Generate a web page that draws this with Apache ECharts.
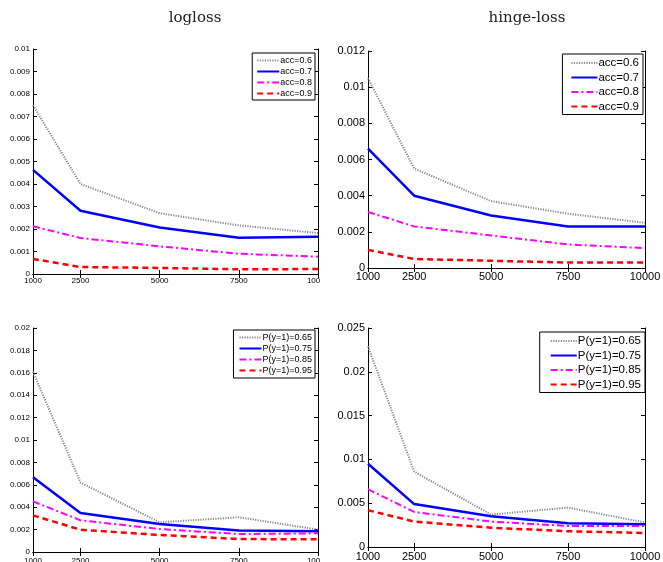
<!DOCTYPE html>
<html>
<head>
<meta charset="utf-8">
<script src="https://cdn.jsdelivr.net/npm/echarts@6/dist/echarts.min.js"></script>
<style>
  body { margin: 0; background: #fff; }
  #wrap { position: relative; width: 663px; height: 562px; overflow: hidden; background: #fff; }
  .panel { position: absolute; }
</style>
</head>
<body>
<div id="wrap">
  <div id="tl" class="panel" style="left:0;top:0;width:320px;height:290px"></div>
  <div id="tr" class="panel" style="left:330px;top:0;width:333px;height:290px"></div>
  <div id="bl" class="panel" style="left:0;top:290px;width:320px;height:272px"></div>
  <div id="br" class="panel" style="left:330px;top:290px;width:333px;height:272px"></div>
</div>
<script>
// sample sizes on the x axis
var sizes = [1000, 2500, 5000, 7500, 10000];

var accNames = ['acc=0.6', 'acc=0.7', 'acc=0.8', 'acc=0.9'];
var pNames = ['P(y=1)=0.65', 'P(y=1)=0.75', 'P(y=1)=0.85', 'P(y=1)=0.95'];

// logloss, accuracy
var logAcc06 = [0.0075, 0.0040, 0.0027, 0.00216, 0.00182];
var logAcc07 = [0.00463, 0.00281, 0.00207, 0.00161, 0.00166];
var logAcc08 = [0.00212, 0.0016, 0.00123, 0.0009, 0.00077];
var logAcc09 = [0.00067, 0.00031, 0.00027, 0.00021, 0.00022];

// hinge-loss, accuracy
var hingeAcc06 = [0.0105, 0.0055, 0.0037, 0.003, 0.0025];
var hingeAcc07 = [0.0066, 0.004, 0.0029, 0.0023, 0.0023];
var hingeAcc08 = [0.0031, 0.0023, 0.0018, 0.0013, 0.0011];
var hingeAcc09 = [0.001, 0.0005, 0.0004, 0.0003, 0.0003];

// logloss, class prior
var logP065 = [0.0161, 0.0062, 0.00265, 0.0031, 0.002];
var logP075 = [0.00667, 0.00348, 0.0025, 0.00193, 0.00185];
var logP085 = [0.00452, 0.00283, 0.00205, 0.0016, 0.00167];
var logP095 = [0.00327, 0.00199, 0.00152, 0.00116, 0.00113];

// hinge-loss, class prior
var hingeP065 = [0.0229, 0.0086, 0.0037, 0.0045, 0.0028];
var hingeP075 = [0.0095, 0.0049, 0.0035, 0.0027, 0.0026];
var hingeP085 = [0.0066, 0.004, 0.0029, 0.0024, 0.0024];
var hingeP095 = [0.0042, 0.0029, 0.0022, 0.0018, 0.0016];

var styles = [
  { color: '#8a8a8a', width: 2, type: [1.2, 1.3] },
  { color: '#0000ff', width: 2.5, type: 'solid' },
  { color: '#ff00ff', width: 2, type: [7, 3, 2, 3] },
  { color: '#ff0000', width: 2.5, type: [6, 4] }
];

function pairs(ys) {
  return sizes.map(function (x, i) { return [x, ys[i]]; });
}

function makeChart(id, cfg) {
  var chart = echarts.init(document.getElementById(id), null, { renderer: 'canvas' });
  var fs = cfg.fontSize;
  var frame = { show: true, lineStyle: { color: '#000', width: 1 } };
  var tick = { show: true, inside: true, length: 4, lineStyle: { color: '#000' } };
  var xTick = Object.assign({ customValues: sizes }, tick);
  var labelStyle = { color: '#000', fontFamily: 'Liberation Sans', fontSize: fs };
  var series = cfg.data.map(function (ys, i) {
    return {
      name: cfg.names[i],
      type: 'line',
      symbol: 'none',
      animation: false,
      data: pairs(ys),
      lineStyle: styles[i],
      itemStyle: { color: styles[i].color }
    };
  });
  var grid = Object.assign({ outerBoundsMode: 'none', containLabel: false }, cfg.grid);
  chart.setOption({
    animation: false,
    title: cfg.title ? {
      text: cfg.title,
      left: cfg.titleX,
      top: 6,
      textAlign: 'center',
      textStyle: { fontFamily: 'DejaVu Serif', fontSize: 15, fontWeight: 'normal', color: '#222' }
    } : undefined,
    grid: grid,
    legend: {
      orient: 'vertical',
      right: cfg.legend.right,
      top: cfg.legend.top,
      align: 'left',
      backgroundColor: '#fff',
      borderColor: '#000',
      borderWidth: 1,
      borderRadius: 0,
      padding: cfg.legend.padding,
      itemWidth: cfg.legend.itemWidth,
      itemHeight: cfg.legend.itemHeight,
      itemGap: cfg.legend.gap,
      itemStyle: { opacity: 0 },
      textStyle: { color: '#000', fontFamily: 'Liberation Sans', fontSize: cfg.legend.fontSize, padding: [0, 0, 0, -4] },
      data: cfg.names
    },
    xAxis: [
      {
        type: 'value', min: 1000, max: 10000, position: 'bottom',
        axisLine: frame, axisTick: xTick, splitLine: { show: false },
        axisLabel: Object.assign({
          customValues: sizes, margin: cfg.xMargin, showMaxLabel: true,
          formatter: function (v) { return String(v); }
        }, labelStyle)
      },
      {
        type: 'value', min: 1000, max: 10000, position: 'top',
        axisLine: frame, axisTick: xTick, splitLine: { show: false },
        axisLabel: { show: false }
      }
    ],
    yAxis: [
      {
        type: 'value', min: 0, max: cfg.yMax, interval: cfg.yStep, position: 'left',
        axisLine: frame, axisTick: tick, splitLine: { show: false },
        axisLabel: Object.assign({ margin: 3 }, labelStyle)
      },
      {
        type: 'value', min: 0, max: cfg.yMax, interval: cfg.yStep, position: 'right',
        axisLine: frame, axisTick: tick, splitLine: { show: false },
        axisLabel: { show: false }
      }
    ],
    series: series
  });
  return chart;
}

makeChart('tl', {
  title: 'logloss', titleX: 190,
  grid: { left: 33, top: 49, width: 285, height: 225 },
  yMax: 0.01, yStep: 0.001, fontSize: 8, xMargin: 3,
  names: accNames,
  data: [logAcc06, logAcc07, logAcc08, logAcc09],
  legend: { right: 5, top: 53, padding: [3, 3, 2, 4], itemWidth: 22, itemHeight: 10, gap: 2, fontSize: 9 }
});

makeChart('tr', {
  title: 'hinge-loss', titleX: 192,
  grid: { left: 38, top: 51, width: 277, height: 217 },
  yMax: 0.012, yStep: 0.002, fontSize: 11, xMargin: 3,
  names: accNames,
  data: [hingeAcc06, hingeAcc07, hingeAcc08, hingeAcc09],
  legend: { right: 20, top: 54, padding: [3, 4, 2, 8], itemWidth: 26, itemHeight: 12, gap: 2.5, fontSize: 11.5 }
});

makeChart('bl', {
  grid: { left: 33, top: 38, width: 285, height: 224 },
  yMax: 0.02, yStep: 0.002, fontSize: 8, xMargin: 5,
  names: pNames,
  data: [logP065, logP075, logP085, logP095],
  legend: { right: 5, top: 40, padding: [3, 3, 3, 5], itemWidth: 22, itemHeight: 10, gap: 2, fontSize: 9 }
});

makeChart('br', {
  grid: { left: 38, top: 38, width: 277, height: 219 },
  yMax: 0.025, yStep: 0.005, fontSize: 11, xMargin: 4,
  names: pNames,
  data: [hingeP065, hingeP075, hingeP085, hingeP095],
  legend: { right: 18, top: 42, padding: [3, 4, 2, 10], itemWidth: 26, itemHeight: 12, gap: 2.5, fontSize: 11.5 }
});
</script>
</body>
</html>
